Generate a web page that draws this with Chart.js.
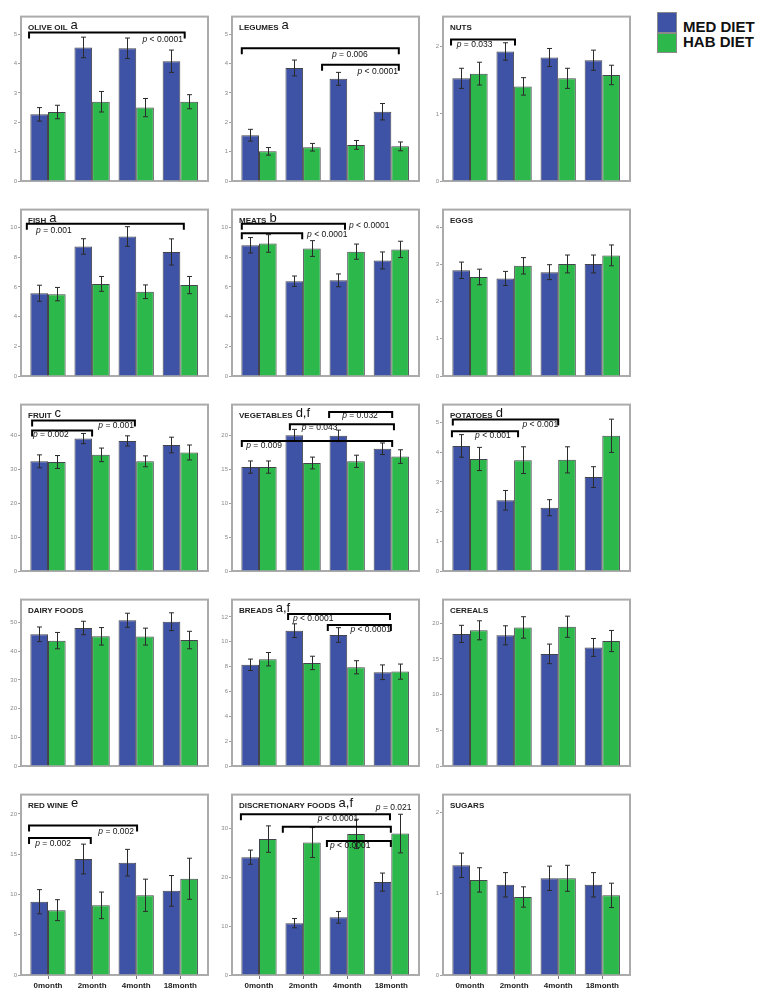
<!DOCTYPE html>
<html>
<head>
<meta charset="utf-8">
<script src="https://cdn.jsdelivr.net/npm/chart.js@4"></script>
<style>
  body { margin: 0; background: #fff; width: 763px; height: 1003px; position: relative; overflow: hidden; font-family: "Liberation Sans", Arial, sans-serif; }
  canvas.panel { position: absolute; }
  .lg-box { position: absolute; left: 657px; width: 20px; height: 20px; border: 1px solid #8a8a8a; box-sizing: border-box; }
  .lg-txt { position: absolute; left: 683px; font: bold 15px "Liberation Sans", Arial, sans-serif; line-height: 15px; color: #111; }
</style>
</head>
<body>
<div class="lg-box" style="top:12px;height:21px;background:#3e53a6"></div>
<div class="lg-box" style="top:33px;background:#2db84b"></div>
<div class="lg-txt" style="top:19px">MED DIET</div>
<div class="lg-txt" style="top:34px">HAB DIET</div>
<script>
// valeurs (moyennes et erreurs standard)
const months = ["0month", "2month", "4month", "18month"];
const foods = ["OLIVE OIL", "LEGUMES", "NUTS", "FISH", "MEATS", "EGGS", "FRUIT", "VEGETABLES", "POTATOES",
  "DAIRY FOODS", "BREADS", "CEREALS", "RED WINE", "DISCRETIONARY FOODS", "SUGARS"];
const notes = ["a", "a", "", "a", "b", "", "c", "d,f", "d", "", "a,f", "", "e", "a,f", ""];

const medMeans = [
  [2.27, 4.55, 4.52, 4.08], [1.56, 3.85, 3.48, 2.36], [1.53, 1.93, 1.84, 1.80],
  [5.57, 8.72, 9.39, 8.35], [8.80, 6.38, 6.44, 7.78], [2.84, 2.62, 2.79, 3.01],
  [32.3, 39.0, 38.3, 37.1], [15.3, 20.0, 19.9, 18.0], [4.21, 2.38, 2.13, 3.16],
  [45.9, 48.1, 50.8, 50.3], [8.15, 10.9, 10.55, 7.55], [18.5, 18.3, 15.7, 16.6],
  [9.1, 14.4, 13.95, 10.45], [24.1, 10.6, 11.8, 19.0], [1.35, 1.11, 1.19, 1.11]
];
const habMeans = [
  [2.35, 2.70, 2.50, 2.70], [1.01, 1.15, 1.23, 1.18], [1.60, 1.41, 1.53, 1.58],
  [5.51, 6.20, 5.67, 6.12], [8.92, 8.58, 8.37, 8.52], [2.66, 2.96, 3.01, 3.24],
  [32.1, 34.2, 32.3, 34.9], [15.3, 15.9, 16.15, 16.85], [3.77, 3.73, 3.74, 4.55],
  [43.7, 45.2, 45.1, 43.9], [8.6, 8.3, 7.95, 7.6], [19.0, 19.4, 19.5, 17.5],
  [8.05, 8.65, 9.9, 11.95], [27.8, 27.1, 28.86, 28.93], [1.17, 0.96, 1.19, 0.98]
];
const medErr = [
  [0.23, 0.35, 0.35, 0.38], [0.20, 0.27, 0.22, 0.28], [0.15, 0.13, 0.135, 0.15],
  [0.54, 0.52, 0.66, 0.88], [0.52, 0.35, 0.43, 0.57], [0.22, 0.19, 0.20, 0.24],
  [1.9, 1.5, 1.5, 2.3], [0.9, 0.85, 0.85, 0.85], [0.38, 0.33, 0.27, 0.35],
  [2.55, 2.35, 2.45, 3.1], [0.46, 0.55, 0.59, 0.59], [1.2, 1.33, 1.37, 1.25],
  [1.5, 1.85, 1.65, 1.9], [1.45, 0.95, 1.2, 1.85], [0.15, 0.15, 0.15, 0.15]
];
const habErr = [
  [0.23, 0.35, 0.31, 0.24], [0.13, 0.13, 0.15, 0.15], [0.17, 0.13, 0.15, 0.145],
  [0.45, 0.5, 0.46, 0.58], [0.59, 0.53, 0.51, 0.55], [0.21, 0.22, 0.24, 0.28],
  [1.9, 2.0, 1.6, 2.2], [0.9, 0.87, 0.9, 1.0], [0.39, 0.45, 0.44, 0.56],
  [2.85, 3.05, 2.95, 3.05], [0.54, 0.54, 0.53, 0.61], [1.33, 1.5, 1.48, 1.48],
  [1.3, 1.65, 2.0, 2.55], [2.7, 3.05, 3.0, 3.95], [0.15, 0.125, 0.16, 0.15]
];
const yMax = [5.6, 5.6, 2.45, 11.2, 11.2, 4.47, 49, 24.5, 5.6, 58, 13.4, 23.3, 22.4, 36.9, 2.22];
const yStep = [1, 1, 1, 2, 2, 1, 10, 5, 1, 10, 2, 5, 5, 10, 1];

// crochets de significativite : [panneau, x debut, x fin, y]
const brackets = [
  [0, -0.43, 3.1, 5.06],
  [1, -0.39, 3.17, 4.52], [1, 1.43, 3.17, 3.96],
  [2, -0.43, 1.02, 2.11],
  [3, -0.48, 3.08, 10.24],
  [4, -0.39, 1.95, 10.24], [4, -0.39, 0.98, 9.6],
  [6, -0.36, 1.97, 44.3], [6, -0.36, 1.0, 41.4],
  [7, 1.59, 3.02, 23.4], [7, 0.70, 3.06, 21.6], [7, -0.39, 3.02, 19.14],
  [8, -0.39, 2.0, 5.1], [8, -0.41, 1.09, 4.7],
  [10, 0.66, 2.97, 12.25], [10, 1.56, 2.99, 11.35],
  [12, -0.43, 2.02, 18.55], [12, -0.43, 0.97, 17.0],
  [13, -0.41, 2.97, 32.9], [13, 0.54, 2.99, 30.3], [13, 1.54, 2.99, 27.4]
];
// etiquettes p : [panneau, texte apres "p", x, y, alignement]
const pLabels = [
  [0, " < 0.0001", 3.06, 4.73, "right"],
  [1, " = 0.006", 2.06, 4.22, "center"], [1, " < 0.0001", 3.15, 3.66, "right"],
  [2, " = 0.033", -0.3, 2.0, "left"],
  [3, " = 0.001", -0.27, 9.65, "left"],
  [4, " < 0.0001", 2.04, 9.94, "left"], [4, " < 0.0001", 1.09, 9.35, "left"],
  [6, " = 0.001", 1.95, 42.2, "right"], [6, " = 0.002", -0.34, 39.6, "left"],
  [7, " = 0.032", 2.29, 22.46, "center"], [7, " = 0.043", 0.97, 20.8, "left"], [7, " = 0.009", -0.29, 18.06, "left"],
  [8, " < 0.001", 2.0, 4.85, "right"], [8, " < 0.001", 0.52, 4.48, "center"],
  [10, " < 0.0001", 0.77, 11.65, "left"], [10, " < 0.0001", 2.99, 10.78, "right"],
  [12, " = 0.002", 1.95, 17.5, "right"], [12, " = 0.002", -0.29, 16.0, "left"],
  [13, " = 0.021", 2.65, 33.7, "left"], [13, " < 0.0001", 1.79, 31.4, "center"], [13, " < 0.0001", 1.61, 26.0, "left"]
];

const BLUE = "#3e53a6", GREEN = "#2db84b", EDGE = "rgba(35,35,45,0.85)", FRAME = "#ababab";
const FONT = '"Liberation Sans", Arial, sans-serif';
const colLeft = [21, 232, 443];
const rowTop = [15, 208, 403, 598, 793];
const rowZero = [203, 398, 593, 788, 975];
const FW = 187, YW = 20, PAD = 3, XH = 22;
const UNIT = 44.1;
const X_MIN = -27 / UNIT, X_MAX = X_MIN + FW / UNIT;

function decoPlugin(i) {
  return {
    id: "deco" + i,
    beforeDatasetsDraw(chart) {
      const { ctx, chartArea: a } = chart;
      ctx.save();
      ctx.strokeStyle = FRAME;
      ctx.lineWidth = 2;
      ctx.strokeRect(a.left, a.top, a.right - a.left, a.bottom - a.top);
      ctx.restore();
    },
    afterDatasetsDraw(chart) {
      const { ctx, chartArea: a } = chart;
      const xs = chart.scales.x, ys = chart.scales.y;
      ctx.save();
      // barres d'erreur
      ctx.strokeStyle = "#2b2b2b";
      ctx.lineWidth = 1;
      chart.data.datasets.forEach((ds, d) => {
        chart.getDatasetMeta(d).data.forEach((bar, k) => {
          const v = ds.data[k].y, e = ds.err[k];
          const x = Math.round(bar.x) + 0.5;
          const y1 = ys.getPixelForValue(v + e), y2 = ys.getPixelForValue(v - e);
          ctx.beginPath();
          ctx.moveTo(x, y1); ctx.lineTo(x, y2);
          ctx.moveTo(x - 2.5, y1); ctx.lineTo(x + 2.5, y1);
          ctx.moveTo(x - 2.5, y2); ctx.lineTo(x + 2.5, y2);
          ctx.stroke();
        });
      });
      // crochets
      ctx.strokeStyle = "#000";
      ctx.lineWidth = 2;
      brackets.filter((b) => b[0] === i).forEach((b) => {
        const x1 = xs.getPixelForValue(b[1]), x2 = xs.getPixelForValue(b[2]);
        const y = ys.getPixelForValue(b[3]);
        ctx.beginPath();
        ctx.moveTo(x1, y + 6); ctx.lineTo(x1, y); ctx.lineTo(x2, y); ctx.lineTo(x2, y + 6);
        ctx.stroke();
      });
      // valeurs p
      ctx.fillStyle = "#111";
      ctx.textBaseline = "alphabetic";
      pLabels.filter((p) => p[0] === i).forEach((p) => {
        ctx.font = "italic 8.5px " + FONT;
        const wp = ctx.measureText("p").width;
        ctx.font = "8.5px " + FONT;
        const wr = ctx.measureText(p[1]).width;
        let x = xs.getPixelForValue(p[2]);
        const y = ys.getPixelForValue(p[3]);
        if (p[4] === "right") x -= wp + wr;
        if (p[4] === "center") x -= (wp + wr) / 2;
        ctx.textAlign = "left";
        ctx.font = "italic 8.5px " + FONT;
        ctx.fillText("p", x, y);
        ctx.font = "8.5px " + FONT;
        ctx.fillText(p[1], x + wp, y);
      });
      // titre
      ctx.font = "bold 8px " + FONT;
      ctx.fillStyle = "#222";
      ctx.textAlign = "left";
      ctx.fillText(foods[i], a.left + 7, a.top + 13.5);
      if (notes[i]) {
        const w = ctx.measureText(foods[i]).width;
        ctx.font = "13px " + FONT;
        ctx.fillStyle = "#111";
        ctx.fillText(notes[i], a.left + 7 + w + 3, a.top + 12);
      }
      ctx.restore();
    }
  };
}

function makePanel(i) {
  const row = Math.floor(i / 3), col = i % 3;
  const last = row === 4;
  const fh = rowZero[row] - rowTop[row];
  const cv = document.createElement("canvas");
  cv.className = "panel";
  cv.width = YW + FW + PAD;
  cv.height = PAD + fh + (last ? XH : PAD);
  cv.style.left = colLeft[col] - YW + "px";
  cv.style.top = rowTop[row] - PAD + "px";
  document.body.appendChild(cv);

  const mk = (label, vals, errs, color) => ({
    label,
    data: vals.map((v, k) => ({ x: k, y: v })),
    err: errs,
    backgroundColor: color,
    borderColor: EDGE,
    borderWidth: 1,
    categoryPercentage: 0.8,
    barPercentage: 1.0
  });

  new Chart(cv, {
    type: "bar",
    data: {
      datasets: [
        mk("MED DIET", medMeans[i], medErr[i], BLUE),
        mk("HAB DIET", habMeans[i], habErr[i], GREEN)
      ]
    },
    options: {
      responsive: false,
      animation: false,
      layout: { padding: { top: PAD, right: PAD, bottom: last ? 0 : PAD, left: 0 } },
      plugins: { legend: { display: false }, tooltip: { enabled: false } },
      scales: {
        x: {
          type: "linear",
          min: X_MIN,
          max: X_MAX,
          offset: false,
          display: last,
          afterBuildTicks: (ax) => { ax.ticks = months.map((_, k) => ({ value: k })); },
          afterFit: (ax) => { ax.height = XH; },
          ticks: {
            callback: (v) => months[v],
            autoSkip: false,
            maxRotation: 0,
            padding: 2,
            color: "#222",
            font: { family: FONT, size: 8, weight: "bold" }
          },
          grid: { drawOnChartArea: false, offset: false, tickLength: 4, color: "#777" },
          border: { display: false }
        },
        y: {
          min: 0,
          max: yMax[i],
          afterFit: (ax) => { ax.width = YW; },
          ticks: {
            stepSize: yStep[i],
            includeBounds: false,
            padding: 1,
            color: "#8a8a8a",
            font: { family: FONT, size: 6 }
          },
          grid: { drawOnChartArea: false, tickLength: 3, color: "#a0a0a0" },
          border: { display: false }
        }
      }
    },
    plugins: [decoPlugin(i)]
  });
}

foods.forEach((_, i) => makePanel(i));
</script>
</body>
</html>
